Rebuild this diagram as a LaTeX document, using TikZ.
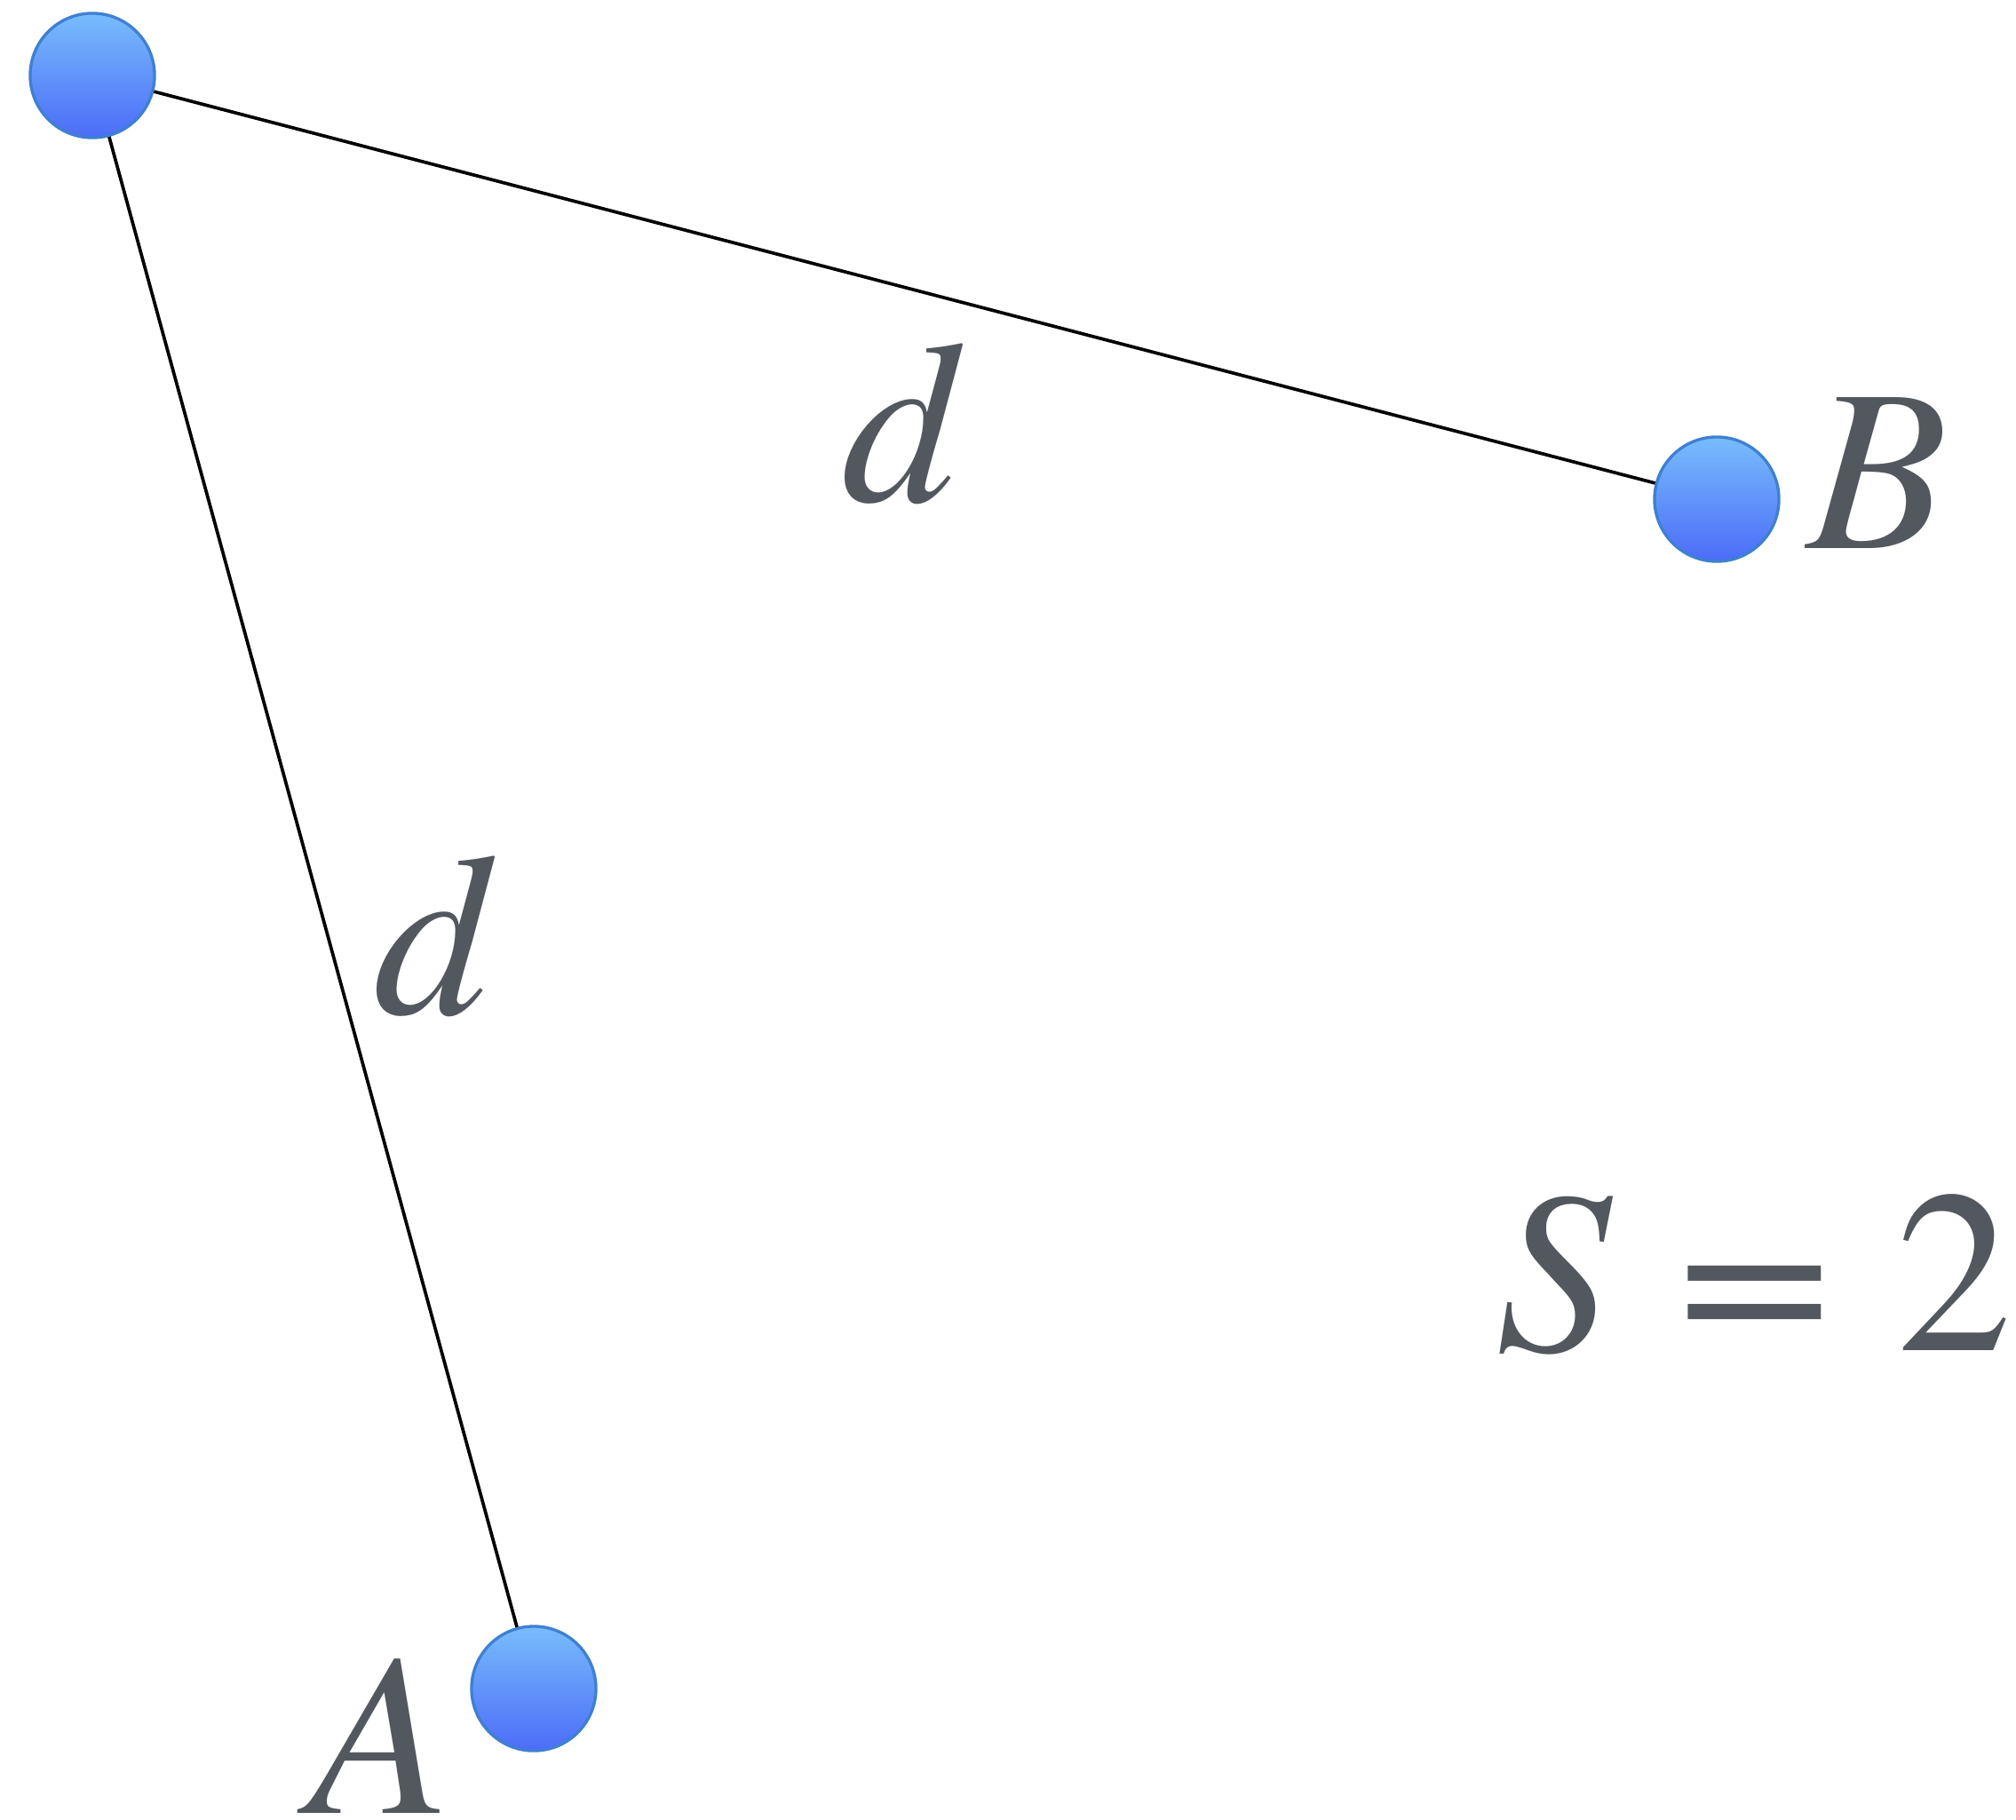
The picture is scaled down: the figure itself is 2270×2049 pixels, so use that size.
\documentclass[tikz,border=0pt]{standalone}
\usepackage{fontspec}
\setmainfont{texgyretermes}[Extension=.otf, UprightFont=*-regular, ItalicFont=*-italic, BoldFont=*-bold]
\usepackage{graphicx}
\usepackage{xcolor}
\usepackage{tikz}
\usetikzlibrary{positioning}
\definecolor{BallTop}{HTML}{78BCFC}
\definecolor{BallBot}{HTML}{4C6CF8}
\definecolor{BallRim}{HTML}{3E80D2}
\definecolor{Ink}{HTML}{53585E}

\begin{document}
\begin{tikzpicture}[
      x=0.01cm, y=-0.01cm,
      font=\fontsize{74}{80}\selectfont,
      ball/.style={
        circle, draw=BallRim, line width=0.95pt, minimum size=1.40cm, inner sep=0pt,
        top color=BallTop, bottom color=BallBot
      },
      lbl/.style={text=Ink, inner sep=0pt, anchor=base},
      edge/.style={draw=black, line width=1.05pt}
    ]
      \useasboundingbox (0,0) rectangle (2270,2049);
      \node[ball] (o) at (104,85)   {};
      \node[ball] (b) at (1933,562) {};
      \node[ball] (a) at (601,1901) {};
      \draw[edge] (o) -- (b);
      \draw[edge] (o) -- (a);
      \node[lbl] (db)  at (1016,565)  {\textit{d}};
      \node[lbl] (da)  at (489,1141)  {\textit{d}};
      \node[lbl] (lb)  at (2114,617)  {\textit{B}};
      \node[lbl] (la)  at (428,2041)  {\textit{A}};
      \node[lbl] (sum) at (1975,1520) {\textit{S}\;\scalebox{1.19}[1]{=}\;2};
    \end{tikzpicture}
\end{document}
